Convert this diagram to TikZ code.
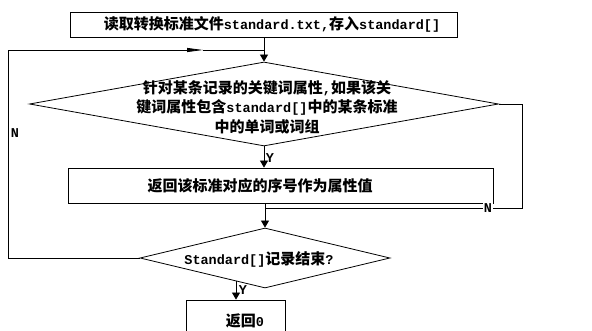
\documentclass[tikz,border=0pt]{standalone}
\usepackage{fontspec}
\setmainfont{Liberation Mono}
\newfontfamily\cjk{Noto Sans CJK SC}
\usetikzlibrary{shapes.geometric,arrows.meta}
\newcommand\zh[1]{{\cjk\bfseries\fontsize{15}{16}\selectfont #1}}
\tikzset{
  every node/.style={font=\bfseries\fontsize{13.5}{19.5}\selectfont},
  boxn/.style={draw, line width=0.8pt, rectangle, inner sep=0pt},
  dian/.style={draw, line width=0.8pt, diamond, inner sep=0pt},
  ln/.style={line width=0.8pt},
  arr/.style={line width=0.8pt, -{Triangle[length=7pt,width=8pt]}},
  midarr/.style={line width=0.8pt, -{Triangle[length=16pt,width=4pt]}},
  lbl/.style={inner sep=1pt},
}
\begin{document}
\begin{tikzpicture}[x=1pt,y=-1pt]
\useasboundingbox (0,0) rectangle (592,331);
\clip (0,0) rectangle (592,331);
% nodes
\node[boxn, minimum width=387pt, minimum height=25pt] (b1) at (264,24.5) {};
\node (b1t) at (272,24.5)
  {\zh{读取转换标准文件}standard.txt,\zh{存入}standard[]};
\node[dian, minimum width=469pt, minimum height=84pt] (d1) at (264,104) {};
\node[align=center] (d1t) at (267,107)
  {\zh{针对某条记录的关键词属性},\zh{如果该关}\\
   \zh{键词属性包含}standard[]\zh{中的某条标准}\\
   \zh{中的单词或词组}};
\node[boxn, minimum width=425pt, minimum height=35pt] (b2) at (280.5,185.5) {};
\node (b2t) at (260,186) {\zh{返回该标准对应的序号作为属性值}};
\node[dian, minimum width=250pt, minimum height=60pt] (d2) at (265,258) {};
\node (d2t) at (259,259) {Standard[]\zh{记录结束}?};
\node[boxn, minimum width=99pt, minimum height=40pt] (b3) at (235.5,320) {};
\node (b3t) at (245,321) {\zh{返回}0};
% coordinates
\coordinate (j) at (264,50);
\coordinate (lc) at (8,50);
\coordinate (ma) at (203,50);
\coordinate (rc) at (522,208);
\coordinate (p) at (236,281.5);
% connectors
\draw[arr] (b1.south) -- (d1.north);
\draw[ln] (d2.west) -- (d2.west -| lc) -- (lc);
\draw[midarr] (lc) -- (ma);
\draw[ln] (ma) -- (j);
\draw[arr] (d1.south) -- (d1.south |- b2.north);
\draw[ln] (d1.east) -- (d1.east -| rc) -- (rc) -- (rc -| d2.north);
\draw[arr] (b2.south -| d2.north) -- (d2.north);
\draw[arr] (p) -- (p |- b3.north);
% labels
\node[lbl] (nl) at (15,133) {N};
\node[lbl, fill=white] (nr) at (488,208) {N};
\node[lbl] (y1) at (270,158) {Y};
\node[lbl] (y2) at (243,290) {Y};
\end{tikzpicture}
\end{document}
